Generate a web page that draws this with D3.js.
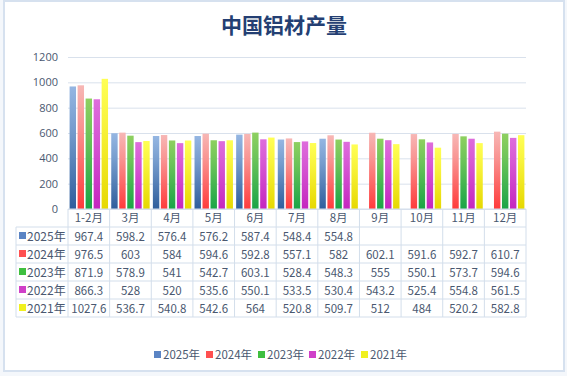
<!DOCTYPE html>
<html>
<head>
<meta charset="utf-8">
<script src="https://cdn.jsdelivr.net/npm/d3@7"></script>
<style>
  body { margin: 0; background: #fff; }
  svg { display: block; font-family: "Noto Sans CJK SC", "Noto Sans", sans-serif; }
</style>
</head>
<body>
<svg id="chart"></svg>
<script>
// categories and series
const months = ['1-2月', '3月', '4月', '5月', '6月', '7月', '8月', '9月', '10月', '11月', '12月']
const years = ['2025年', '2024年', '2023年', '2022年', '2021年']
const v2025 = [967.4, 598.2, 576.4, 576.2, 587.4, 548.4, 554.8, null, null, null, null]
const v2024 = [976.5, 603, 584, 594.6, 592.8, 557.1, 582, 602.1, 591.6, 592.7, 610.7]
const v2023 = [871.9, 578.9, 541, 542.7, 603.1, 528.4, 548.3, 555, 550.1, 573.7, 594.6]
const v2022 = [866.3, 528, 520, 535.6, 550.1, 533.5, 530.4, 543.2, 525.4, 554.8, 561.5]
const v2021 = [1027.6, 536.7, 540.8, 542.6, 564, 520.8, 509.7, 512, 484, 520.2, 582.8]
const yTicks = [0, 200, 400, 600, 800, 1000, 1200]

const seriesVals = [v2025, v2024, v2023, v2022, v2021]
// [top colour, bottom colour] of each bar gradient
const colours = [
    ['#95b6e2', '#2f5e9c'],
    ['#f7b7b5', '#ff3b3b'],
    ['#8ed060', '#19a447'],
    ['#de6ddc', '#c426bf'],
    ['#ffff55', '#e6d800']
]
const legendCol = ['#5b84c4', '#ff5050', '#3fbf3f', '#d040c8', '#f0f020']

const width = 567, height = 376
const plot = { left: 68, right: 526, top: 57, bottom: 209 }
const rowH = 18
const textCol = '#4a5870'

let svg = d3.select('#chart')
    .attr('width', width)
    .attr('height', height)

let defs = svg.append('defs')
colours.forEach((c, i) => {
    let g = defs.append('linearGradient')
        .attr('id', 'grad' + i)
        .attr('x1', 0).attr('y1', 0).attr('x2', 0).attr('y2', 1)
    g.append('stop').attr('offset', '0%').attr('stop-color', c[0])
    g.append('stop').attr('offset', '35%').attr('stop-color', d3.interpolateRgb(c[0], c[1])(0.3))
    g.append('stop').attr('offset', '100%').attr('stop-color', c[1])
})

// chart frame
svg.append('rect')
    .attr('x', 0).attr('y', 0).attr('width', width).attr('height', height)
    .attr('fill', '#f4f7fb')
svg.append('rect')
    .attr('x', 4).attr('y', 1).attr('width', 560).attr('height', 370)
    .attr('fill', '#fff')
    .attr('stroke', '#d6e1ef')
    .attr('stroke-width', 2)

svg.append('text')
    .attr('x', 284)
    .attr('y', 33)
    .attr('text-anchor', 'middle')
    .attr('font-size', 21)
    .attr('font-weight', 'bold')
    .attr('fill', '#243f73')
    .text('中国铝材产量')

let x0 = d3.scaleBand()
    .domain(months)
    .range([plot.left, plot.right])

let x1 = d3.scaleBand()
    .domain(years)
    .range([0, x0.bandwidth()])
    .paddingInner(0.2)
    .paddingOuter(0.2)

let y = d3.scaleLinear()
    .domain([0, 1200])
    .range([plot.bottom, plot.top])

// grid lines and y labels
let yAxis = svg.append('g')
    .attr('transform', `translate(${plot.left}, 0)`)
    .call(d3.axisLeft(y).tickValues(yTicks).tickFormat(d3.format('d'))
        .tickSize(-(plot.right - plot.left)).tickPadding(10))
yAxis.select('.domain').remove()
yAxis.selectAll('line').attr('stroke', '#d9e1ec')
yAxis.selectAll('text')
    .attr('font-size', 11)
    .attr('fill', textCol)
    .attr('font-family', '"Open Sans", "Noto Sans CJK SC", sans-serif')

// bars
let groups = svg.append('g').selectAll('g')
    .data(months)
    .join('g')
    .attr('transform', d => `translate(${x0(d)}, 0)`)

groups.selectAll('rect')
    .data((m, i) => years.map((yr, s) => ({ yr, s, v: seriesVals[s][i] })).filter(d => d.v != null))
    .join('rect')
    .attr('x', d => x1(d.yr))
    .attr('width', x1.bandwidth())
    .attr('y', d => y(d.v))
    .attr('height', d => y(0) - y(d.v))
    .attr('fill', d => `url(#grad${d.s})`)

// data table
let table = svg.append('g')
let gridCol = '#d3deeb'
const tableLeft = 16
const nRows = years.length

// horizontal lines
table.append('line')
    .attr('x1', plot.left).attr('x2', plot.right)
    .attr('y1', plot.bottom).attr('y2', plot.bottom)
    .attr('stroke', gridCol)
d3.range(nRows + 1).forEach(r => {
    let yy = plot.bottom + rowH * (r + 1)
    table.append('line')
        .attr('x1', tableLeft).attr('x2', plot.right)
        .attr('y1', yy).attr('y2', yy)
        .attr('stroke', gridCol)
})
// vertical lines
months.concat(['end']).forEach((m, i) => {
    let xx = i < months.length ? x0(m) : plot.right
    table.append('line')
        .attr('x1', xx).attr('x2', xx)
        .attr('y1', plot.bottom).attr('y2', plot.bottom + rowH * (nRows + 1))
        .attr('stroke', gridCol)
})
table.append('line')
    .attr('x1', tableLeft).attr('x2', tableLeft)
    .attr('y1', plot.bottom + rowH).attr('y2', plot.bottom + rowH * (nRows + 1))
    .attr('stroke', gridCol)

// month header
table.selectAll('text.month')
    .data(months)
    .join('text')
    .attr('class', 'month')
    .attr('x', d => x0(d) + x0.bandwidth() / 2)
    .attr('y', plot.bottom + rowH / 2 + 4)
    .attr('text-anchor', 'middle')
    .attr('font-size', 11.5)
    .attr('fill', textCol)
    .text(d => d)

// rows
years.forEach((yr, s) => {
    let cy = plot.bottom + rowH * (s + 1) + rowH / 2
    table.append('rect')
        .attr('x', 19).attr('y', cy - 4)
        .attr('width', 7).attr('height', 7)
        .attr('fill', legendCol[s])
    table.append('text')
        .attr('x', 27).attr('y', cy + 4.5)
        .attr('font-size', 12)
        .attr('fill', textCol)
        .text(yr)
    table.selectAll('text.v' + s)
        .data(seriesVals[s].map((v, i) => ({ v, m: months[i] })).filter(d => d.v != null))
        .join('text')
        .attr('x', d => x0(d.m) + x0.bandwidth() / 2)
        .attr('y', cy + 4.5)
        .attr('text-anchor', 'middle')
        .attr('font-size', 11.5)
        .attr('fill', textCol)
        .text(d => d.v)
})

// legend
let legendX = [154, 206, 258, 309, 361]
let legend = svg.append('g')
years.forEach((yr, s) => {
    legend.append('rect')
        .attr('x', legendX[s]).attr('y', 351)
        .attr('width', 7).attr('height', 7)
        .attr('fill', legendCol[s])
    legend.append('text')
        .attr('x', legendX[s] + 9).attr('y', 359)
        .attr('font-size', 11.5)
        .attr('fill', textCol)
        .text(yr)
})
</script>
</body>
</html>
